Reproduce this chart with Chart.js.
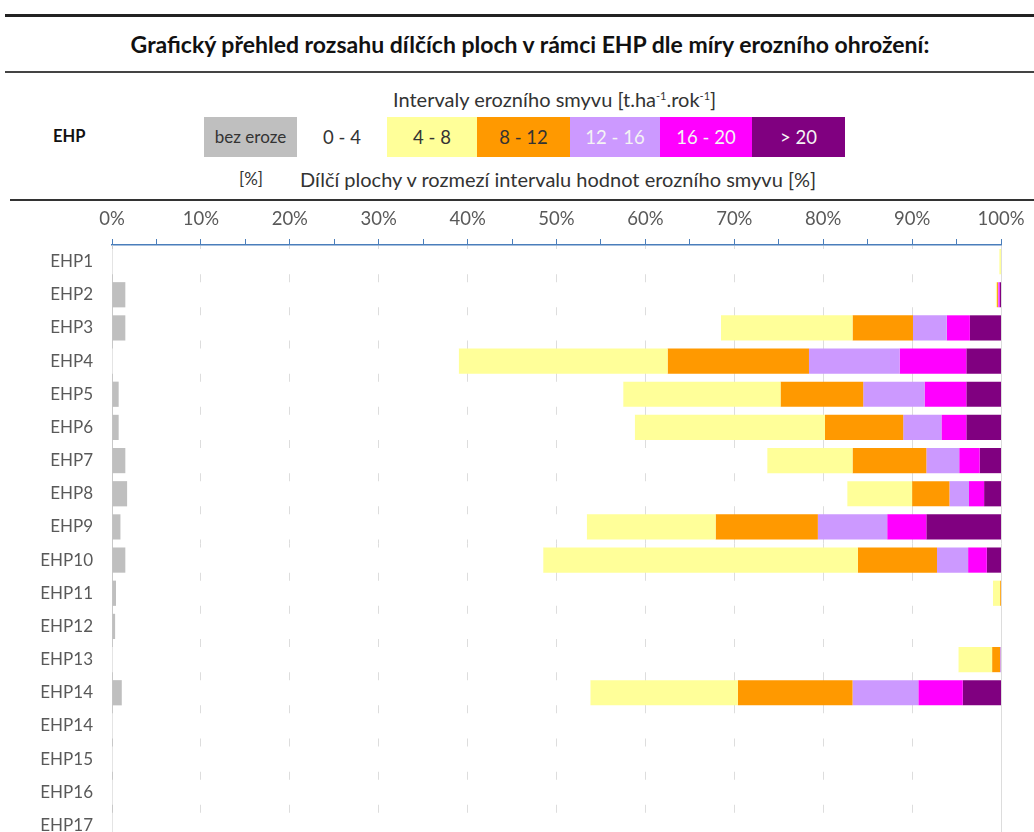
<!DOCTYPE html>
<html>
<head>
<meta charset="utf-8">
<script src="https://cdn.jsdelivr.net/npm/chart.js@4"></script>
<style>
    html, body { margin: 0; padding: 0; background: #fff; overflow: hidden; }
    body { width: 1034px; height: 832px; position: relative; font-family: Lato, "Open Sans", sans-serif; color: #333; }
    .abs { position: absolute; white-space: nowrap; }
    .rule { position: absolute; left: 5px; right: 0; background: #222; }
    .title { left: 0; width: 1060px; top: 30px; text-align: center; font-weight: bold; font-size: 23px; color: #111; }
    .cell { position: absolute; top: 117px; height: 40px; line-height: 40px; text-align: center; font-size: 18.5px; }
    sup { font-size: 11px; vertical-align: 7px; }
    #wrap { position: absolute; left: 0; top: 200px; width: 1034px; height: 642px; }
</style>
</head>
<body>
<div class="rule" style="top:14px;height:3px;"></div>
<div class="abs title">Grafický přehled rozsahu dílčích ploch v rámci EHP dle míry erozního ohrožení:</div>
<div class="rule" style="top:71px;height:2px;background:#444;"></div>

<div class="abs" style="left:393px;top:87px;font-size:20px;">Intervaly erozního smyvu [t.ha<sup>-1</sup>.rok<sup>-1</sup>]</div>
<div class="abs" style="left:53px;top:126px;font-size:16.5px;font-weight:bold;color:#111;">EHP</div>
<div class="cell" style="left:204px;width:93px;background:#BFBFBF;font-size:17px;">bez eroze</div>
<div class="cell" style="left:297px;width:90px;">0 - 4</div>
<div class="cell" style="left:387px;width:90px;background:#FFFF99;">4 - 8</div>
<div class="cell" style="left:477px;width:93px;background:#FF9900;">8 - 12</div>
<div class="cell" style="left:570px;width:90px;background:#CC99FF;color:#f4f4f4;">12 - 16</div>
<div class="cell" style="left:660px;width:92px;background:#FF00FF;color:#f4f4f4;">16 - 20</div>
<div class="cell" style="left:752px;width:93px;background:#800080;color:#f4f4f4;">&gt; 20</div>
<div class="abs" style="left:239px;top:168px;font-size:17px;">[%]</div>
<div class="abs" style="left:300px;top:167px;font-size:20px;">Dílčí plochy v rozmezí intervalu hodnot erozního smyvu [%]</div>
<div class="rule" style="top:199px;height:2px;left:10px;background:#333;"></div>

<div id="wrap"><canvas id="chart" width="1034" height="642"></canvas></div>

<script>
const categories = ["EHP1", "EHP2", "EHP3", "EHP4", "EHP5", "EHP6", "EHP7", "EHP8", "EHP9",
    "EHP10", "EHP11", "EHP12", "EHP13", "EHP14", "EHP14", "EHP15", "EHP16", "EHP17"];

// share of each erosion interval [%]
const bezEroze = [0, 1.5, 1.5, 0, 0.75, 0.75, 1.5, 1.7, 0.95, 1.5, 0.45, 0.35, 0, 1.1, 0, 0, 0, 0];
const r0_4 = [99.8, 97.9, 67.0, 39.0, 56.75, 58.05, 72.2, 81.0, 52.45, 47.0, 98.65, 99.65, 95.2, 52.7, 100, 100, 100, 100];
const r4_8 = [0.2, 0.15, 14.8, 23.5, 17.7, 21.4, 9.6, 7.3, 14.5, 35.4, 0.8, 0, 3.8, 16.6, 0, 0, 0, 0];
const r8_12 = [0, 0.1, 6.8, 15.9, 9.3, 8.8, 8.3, 4.2, 11.5, 8.9, 0.1, 0, 0.9, 12.9, 0, 0, 0, 0];
const r12_16 = [0, 0.05, 3.8, 10.2, 6.9, 4.3, 3.7, 2.2, 7.8, 3.5, 0, 0, 0.1, 7.4, 0, 0, 0, 0];
const r16_20 = [0, 0.15, 2.6, 7.5, 4.7, 2.8, 2.3, 1.7, 4.4, 2.1, 0, 0, 0, 5.0, 0, 0, 0, 0];
const r20 = [0, 0.15, 3.5, 3.9, 3.9, 3.9, 2.4, 1.9, 8.4, 1.6, 0, 0, 0, 4.3, 0, 0, 0, 0];

const seriesNames = ["bez eroze", "0 - 4", "4 - 8", "8 - 12", "12 - 16", "16 - 20", "> 20"];
const seriesColors = ["#BFBFBF", "#FFFFFF", "#FFFF99", "#FF9900", "#CC99FF", "#FF00FF", "#800080"];
const seriesData = [bezEroze, r0_4, r4_8, r8_12, r12_16, r16_20, r20];

const xTicksStep = 5;

new Chart(document.getElementById("chart").getContext("2d"), {
    type: "bar",
    data: {
        labels: categories,
        datasets: seriesData.map((d, i) => ({
            label: seriesNames[i],
            data: d,
            backgroundColor: seriesColors[i],
            borderWidth: 0,
            barPercentage: 0.76,
            categoryPercentage: 1,
        })),
    },
    options: {
        indexAxis: "y",
        animation: false,
        responsive: false,
        maintainAspectRatio: false,
        layout: { padding: { left: 0, right: 33, top: 0, bottom: 0 } },
        scales: {
            x: {
                position: "top",
                stacked: true,
                min: 0,
                max: 100,
                afterFit: (scale) => { scale.height = 45; },
                ticks: {
                    stepSize: xTicksStep,
                    autoSkip: false,
                    maxRotation: 0,
                    padding: 9,
                    color: "#595959",
                    font: { family: "Lato", size: 18.5 },
                    callback: (v) => (v % 10 === 0 ? v + "%" : ""),
                },
                grid: {
                    color: (ctx) => (ctx.tick && ctx.tick.value % 10 === 0 ? "#DDDDDD" : "rgba(0,0,0,0)"),
                    tickColor: "#4A7EBB",
                    tickLength: 6,
                },
                border: { color: "#4A7EBB", width: 1.5 },
            },
            y: {
                stacked: true,
                z: 1,
                afterFit: (scale) => {
                    scale.width = 112;
                    scale.paddingTop = 0;
                    scale.paddingBottom = 0;
                },
                ticks: {
                    color: "#595959",
                    padding: 11,
                    font: { family: "Lato", size: 17 },
                },
                grid: { display: false },
                border: { color: "#C8C8C8", width: 1 },
            },
        },
        plugins: {
            legend: { display: false },
            tooltip: { enabled: false },
        },
    },
});
</script>
</body>
</html>
